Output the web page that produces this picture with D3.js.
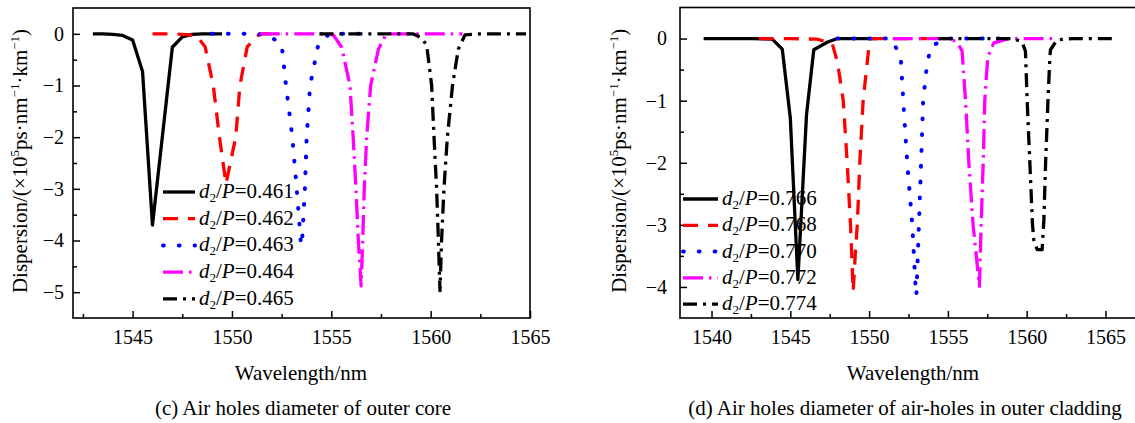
<!DOCTYPE html>
<html>
<head>
<meta charset="utf-8">
<script src="https://cdn.jsdelivr.net/npm/d3@7"></script>
<style>
  html, body { margin: 0; padding: 0; background: #fff; }
</style>
</head>
<body>
<script>
// Dispersion (×10^5 ps·nm^-1·km^-1) versus wavelength (nm), pairs of [λ, D]

// (c) outer-core air-hole diameter d2/P
const c461 = [[1543,0],[1543.5,0],[1544,-0.01],[1544.5,-0.03],[1545,-0.12],[1545.5,-0.73],[1546,-3.7],[1547,-0.26],[1547.5,-0.06],[1548,-0.01],[1548.5,0],[1549,0],[1549.5,0]];
const c462 = [[1546,0],[1547,0],[1547.5,-0.01],[1548.2,-0.03],[1548.65,-0.25],[1549.06,-1.0],[1549.37,-2.0],[1549.7,-2.9],[1550.19,-2.0],[1550.4,-1.0],[1550.77,-0.25],[1551.4,0],[1552,0],[1552.5,0]];
const c463 = [[1549,0],[1550,0],[1551,0],[1551.8,-0.02],[1552.5,-0.2],[1552.72,-1.0],[1553.04,-2.0],[1553.26,-3.0],[1553.46,-4.0],[1553.52,-4.1],[1553.6,-3.5],[1553.67,-3.0],[1553.76,-2.0],[1553.93,-1.0],[1554.35,-0.2],[1554.9,0],[1556,0],[1557,0]];
const c464 = [[1551.4,0],[1553,0],[1554.5,0],[1555.1,-0.02],[1555.52,-0.26],[1555.94,-1.0],[1556.1,-2.0],[1556.24,-3.0],[1556.36,-4.0],[1556.5,-4.88],[1556.58,-4.0],[1556.66,-3.0],[1556.78,-2.0],[1556.98,-1.0],[1557.37,-0.3],[1557.7,-0.05],[1558,0],[1560,0],[1561.6,0]];
const c465 = [[1554.4,0],[1556,0],[1558,0],[1559.1,0],[1559.55,-0.08],[1559.8,-0.22],[1560.05,-1.0],[1560.17,-2.0],[1560.3,-3.0],[1560.39,-4.0],[1560.47,-4.97],[1560.55,-4.0],[1560.67,-3.0],[1560.84,-2.0],[1561.1,-1.0],[1561.39,-0.3],[1561.73,-0.02],[1562.5,0],[1564.8,0]];

// (d) outer-cladding air-hole diameter d2/P
const d766 = [[1539.5,0],[1541,0],[1542.5,0],[1543.85,-0.01],[1544.49,-0.17],[1545.0,-1.28],[1545.48,-3.88],[1546.03,-1.22],[1546.49,-0.18],[1547.34,-0.06],[1547.98,0],[1549,0],[1550.5,0]];
const d768 = [[1543,0],[1545,0],[1546.7,-0.01],[1547.66,-0.08],[1548.0,-0.39],[1548.36,-1.0],[1548.61,-2.0],[1548.82,-3.0],[1548.99,-4.07],[1549.14,-3.4],[1549.25,-3.0],[1549.41,-2.0],[1549.62,-1.0],[1549.98,-0.15],[1550.1,0],[1552,0],[1553.7,0]];
const d770 = [[1548,0],[1550,0],[1551.36,0],[1551.47,-0.04],[1552.0,-0.28],[1552.17,-1.0],[1552.42,-2.0],[1552.74,-3.0],[1552.95,-4.0],[1553.0,-4.14],[1553.09,-3.5],[1553.16,-3.0],[1553.3,-2.0],[1553.43,-1.0],[1553.68,-0.4],[1553.94,-0.12],[1554.96,0],[1557,0],[1558.8,0]];
const d772 = [[1551.5,0],[1553,0],[1555.06,0],[1555.59,-0.06],[1555.9,-0.2],[1556.12,-1.0],[1556.33,-2.0],[1556.6,-3.0],[1557.0,-3.99],[1557.11,-3.0],[1557.24,-2.0],[1557.34,-1.0],[1557.53,-0.3],[1557.91,-0.07],[1558.87,0],[1560,0],[1561.93,0]];
const d774 = [[1554.4,0],[1556,0],[1558,0],[1559.18,0],[1559.71,-0.06],[1559.92,-0.2],[1560.03,-1.0],[1560.2,-2.0],[1560.37,-3.0],[1560.45,-3.24],[1560.67,-3.4],[1560.98,-3.4],[1561.09,-2.92],[1561.2,-2.0],[1561.35,-1.0],[1561.47,-0.3],[1561.51,-0.18],[1561.93,-0.02],[1563,0],[1565.6,0]];

const ratiosC = ["0.461", "0.462", "0.463", "0.464", "0.465"];
const ratiosD = ["0.766", "0.768", "0.770", "0.772", "0.774"];

const xTicksC = [1545, 1550, 1555, 1560, 1565];
const xTicksD = [1540, 1545, 1550, 1555, 1560, 1565];
const yTicksC = [0, -1, -2, -3, -4, -5];
const yTicksD = [0, -1, -2, -3, -4];

const xLabel = "Wavelength/nm";
const captionC = "(c) Air holes diameter of outer core";
const captionD = "(d) Air holes diameter of air-holes in outer cladding";

const SERIF = "'Liberation Serif', 'DejaVu Serif', serif";

// Line styles shared by both panels: colour, width and dash pattern per series
const styles = [
  { color: "#000000", width: 3.3, dash: null, cap: "butt" },
  { color: "#ff0000", width: 3.3, dash: "15 10", cap: "butt" },
  { color: "#0000ff", width: 4, dash: "0.8 15", cap: "round" },
  { color: "#ff00ff", width: 3.3, dash: "20 6 2.5 6", cap: "butt" },
  { color: "#000000", width: 3.3, dash: "14 6 3 6", cap: "butt" }
];

const svg = d3.select("body").append("svg")
  .attr("width", 1135).attr("height", 423)
  .attr("font-family", SERIF);

function drawPanel(p) {
  const x = d3.scaleLinear().domain(p.xDomain).range([p.left, p.right]);
  const y = d3.scaleLinear().domain(p.yDomain).range([p.bottom, p.top]);
  const g = svg.append("g");
  const fmt = d3.format("d");

  // minor ticks
  const xMinor = d3.range(Math.ceil(p.xDomain[0] / 2.5) * 2.5, p.xDomain[1] + 0.01, 2.5)
    .filter(v => v % 5 !== 0);
  const yMinor = d3.range(-0.5, p.yDomain[0], -1);

  g.append("g").attr("transform", `translate(0,${p.bottom})`)
    .call(d3.axisBottom(x).tickValues(xMinor).tickSize(-4).tickFormat(""))
    .call(a => a.select(".domain").remove());
  g.append("g").attr("transform", `translate(${p.left},0)`)
    .call(d3.axisLeft(y).tickValues(yMinor).tickSize(-4).tickFormat(""))
    .call(a => a.select(".domain").remove());

  // major ticks with labels
  const xa = g.append("g").attr("transform", `translate(0,${p.bottom})`)
    .call(d3.axisBottom(x).tickValues(p.xTicks).tickSize(-7).tickPadding(12).tickFormat(fmt));
  xa.select(".domain").remove();
  xa.attr("font-family", SERIF).attr("font-size", 20);
  xa.selectAll("text").attr("font-family", SERIF).attr("font-size", 20);

  const ya = g.append("g").attr("transform", `translate(${p.left},0)`)
    .call(d3.axisLeft(y).tickValues(p.yTicks).tickSize(-7).tickPadding(p.yPad).tickFormat(fmt));
  ya.select(".domain").remove();
  ya.attr("font-family", SERIF).attr("font-size", 20);
  ya.selectAll("text").attr("font-family", SERIF).attr("font-size", 20);

  g.selectAll(".tick line").attr("stroke", "#000").attr("stroke-width", 1.5);

  // frame
  g.append("rect")
    .attr("x", p.left).attr("y", p.top)
    .attr("width", p.right - p.left).attr("height", p.bottom - p.top)
    .attr("fill", "none").attr("stroke", "#000").attr("stroke-width", 1.6);

  // curves
  const line = d3.line().x(d => x(d[0])).y(d => y(d[1]));
  p.series.forEach((s, i) => {
    const st = styles[i];
    g.append("path").datum(s)
      .attr("d", line)
      .attr("fill", "none")
      .attr("stroke", st.color)
      .attr("stroke-width", st.width)
      .attr("stroke-linejoin", "round")
      .attr("stroke-linecap", st.cap)
      .attr("stroke-dasharray", st.dash);
  });

  // legend
  p.labels.forEach((lab, i) => {
    const st = styles[i];
    const by = p.legY + i * p.legStep;
    g.append("line")
      .attr("x1", p.legX).attr("x2", p.legX + p.legLen)
      .attr("y1", by - 6).attr("y2", by - 6)
      .attr("stroke", st.color).attr("stroke-width", st.width)
      .attr("stroke-linecap", st.cap)
      .attr("stroke-dasharray", st.dash);
    const t = g.append("text")
      .attr("x", p.legX + p.legLen + 4).attr("y", by)
      .attr("font-family", SERIF)
      .attr("font-size", 21);
    t.append("tspan").attr("font-style", "italic").text("d");
    t.append("tspan").attr("font-size", 13).attr("dy", 4).text("2");
    t.append("tspan").attr("dy", -4).text("/");
    t.append("tspan").attr("font-style", "italic").text("P");
    t.append("tspan").text("=" + lab);
  });

  // y-axis title
  const cy = (p.top + p.bottom) / 2 - 2;
  const yt = g.append("text")
    .attr("transform", `translate(${p.yTitleX},${cy}) rotate(-90)`)
    .attr("text-anchor", "middle")
    .attr("font-family", SERIF)
    .attr("font-size", 21);
  yt.append("tspan").text("Dispersion/(×10");
  yt.append("tspan").attr("font-size", 13).attr("dy", -8).text("5");
  yt.append("tspan").attr("dy", 8).text("ps·nm");
  yt.append("tspan").attr("font-size", 13).attr("dy", -8).text("−1");
  yt.append("tspan").attr("dy", 8).text("·km");
  yt.append("tspan").attr("font-size", 13).attr("dy", -8).text("−1");
  yt.append("tspan").attr("dy", 8).text(")");

  // x-axis title and caption
  g.append("text")
    .attr("x", p.xTitleX).attr("y", 380)
    .attr("text-anchor", "middle").attr("font-size", 21)
    .attr("font-family", SERIF)
    .text(xLabel);
  g.append("text")
    .attr("x", p.captionX).attr("y", 415)
    .attr("text-anchor", "middle").attr("font-size", 21)
    .attr("font-family", SERIF)
    .text(p.caption);
}

drawPanel({
  left: 73, right: 530, top: 8, bottom: 318,
  xDomain: [1542, 1565], yDomain: [-5.5, 0.5],
  xTicks: xTicksC, yTicks: yTicksC, yPad: 9,
  series: [c461, c462, c463, c464, c465], labels: ratiosC,
  legX: 163, legLen: 32, legY: 198, legStep: 26.7,
  yTitleX: 27, xTitleX: 301, captionX: 303, caption: captionC
});

drawPanel({
  left: 680, right: 1137, top: 7.5, bottom: 318,
  xDomain: [1538, 1567], yDomain: [-4.5, 0.5],
  xTicks: xTicksD, yTicks: yTicksD, yPad: 13,
  series: [d766, d768, d770, d772, d774], labels: ratiosD,
  legX: 683, legLen: 35, legY: 205, legStep: 26.3,
  yTitleX: 626, xTitleX: 913, captionX: 905, caption: captionD
});
</script>
</body>
</html>
